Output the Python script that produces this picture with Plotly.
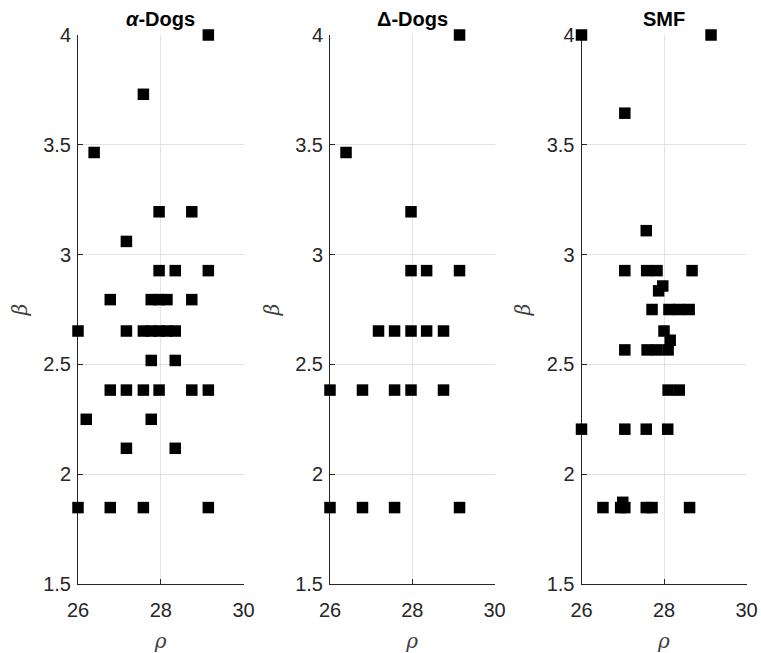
import plotly.graph_objects as go

# ---- data ----
titles = ["<i>α</i>-Dogs", "Δ-Dogs", "SMF"]

alpha_rho = [29.15, 27.58, 26.39, 27.96, 28.75, 27.17, 27.96, 28.35, 29.15,
             26.78, 27.77, 27.96, 28.15, 28.75,
             26.00, 27.17, 27.58, 27.77, 27.96, 28.15, 28.35,
             27.77, 28.35,
             26.78, 27.17, 27.58, 27.96, 28.75, 29.15,
             26.20, 27.77,
             27.17, 28.35,
             26.00, 26.78, 27.58, 29.15]
alpha_beta = [4.00, 3.73, 3.465, 3.195, 3.195, 3.06, 2.927, 2.927, 2.927,
              2.795, 2.795, 2.795, 2.795, 2.795,
              2.652, 2.652, 2.652, 2.652, 2.652, 2.652, 2.652,
              2.518, 2.518,
              2.383, 2.383, 2.383, 2.383, 2.383, 2.383,
              2.25, 2.25,
              2.118, 2.118,
              1.848, 1.848, 1.848, 1.848]

delta_rho = [29.15, 26.39, 27.97, 27.97, 28.35, 29.15,
             27.18, 27.57, 27.97, 28.35, 28.76,
             26.00, 26.79, 27.57, 27.97, 28.76,
             26.00, 26.79, 27.57, 29.15]
delta_beta = [4.00, 3.465, 3.195, 2.927, 2.927, 2.927,
              2.652, 2.652, 2.652, 2.652, 2.652,
              2.383, 2.383, 2.383, 2.383, 2.383,
              1.848, 1.848, 1.848, 1.848]

smf_rho = [26.00, 29.14, 27.05, 27.57,
           27.05, 27.58, 27.83, 28.68,
           27.97, 27.87,
           27.71, 28.12, 28.36, 28.61,
           28.00, 28.15,
           27.05, 27.59, 27.83, 28.10,
           28.10, 28.37,
           26.00, 27.05, 27.57, 28.09,
           26.52, 26.95, 27.05, 27.57, 27.71, 28.62, 27.00]
smf_beta = [4.00, 4.00, 3.644, 3.109,
            2.927, 2.927, 2.927, 2.927,
            2.857, 2.835,
            2.75, 2.75, 2.75, 2.75,
            2.652, 2.61,
            2.566, 2.566, 2.566, 2.566,
            2.383, 2.383,
            2.205, 2.205, 2.205, 2.205,
            1.848, 1.848, 1.848, 1.848, 1.848, 1.848, 1.872]

x_ticks = [26, 28, 30]
y_ticks = [1.5, 2, 2.5, 3, 3.5, 4]
y_ticklabels = ["1.5", "2", "2.5", "3", "3.5", "4"]

series = [(alpha_rho, alpha_beta), (delta_rho, delta_beta), (smf_rho, smf_beta)]

W, H = 761, 653
x_px = [(78, 243.5), (330, 494.5), (581.5, 746.5)]
x_domains = [(a / W, b / W) for a, b in x_px]
y_domain = (1 - 584 / H, 1 - 35 / H)

FONT = "Liberation Sans, Arial, sans-serif"
AX = "#262626"
GRID = "#e3e3e3"
LBL = dict(family="DejaVu Serif, serif", size=20, color="#404040")

fig = go.Figure()
annotations = []
for i, ((xs, ys), title) in enumerate(zip(series, titles)):
    n = "" if i == 0 else str(i + 1)
    fig.add_trace(go.Scatter(
        x=xs, y=ys, mode="markers", xaxis="x" + n, yaxis="y" + n,
        marker=dict(symbol="square", size=11.5, color="black", line=dict(width=0)),
        cliponaxis=False, showlegend=False, hoverinfo="skip"))
    common = dict(showgrid=True, gridcolor=GRID, gridwidth=1, zeroline=False,
                  showline=True, linecolor=AX, linewidth=1, ticks="inside",
                  ticklen=5, tickcolor=AX, tickfont=dict(family=FONT, size=20, color=AX),
                  layer="below traces", fixedrange=True, automargin=False)
    fig.update_layout(**{
        "xaxis" + n: dict(domain=list(x_domains[i]), range=[26, 30], tickvals=x_ticks,
                          ticktext=[str(t) for t in x_ticks], anchor="y" + n,
                          ticklabelstandoff=8,
                          title=dict(text="<i>ρ</i>", font=LBL, standoff=14),
                          **common),
        "yaxis" + n: dict(domain=list(y_domain), range=[1.5, 4], tickvals=y_ticks,
                          ticktext=y_ticklabels, anchor="x" + n,
                          ticklabelstandoff=2,
                          title=dict(text="<i>β</i>", font=LBL, standoff=10),
                          **common),
    })
    annotations.append(dict(
        text="<b>" + title + "</b>", x=(x_domains[i][0] + x_domains[i][1]) / 2,
        y=1 - 19.5 / H, xref="paper", yref="paper", showarrow=False,
        xanchor="center", yanchor="middle",
        font=dict(family=FONT, size=20, color="black")))

fig.update_layout(width=W, height=H, margin=dict(l=0, r=0, t=0, b=0),
                  paper_bgcolor="white", plot_bgcolor="white",
                  annotations=annotations)
fig.write_html("out.html")
